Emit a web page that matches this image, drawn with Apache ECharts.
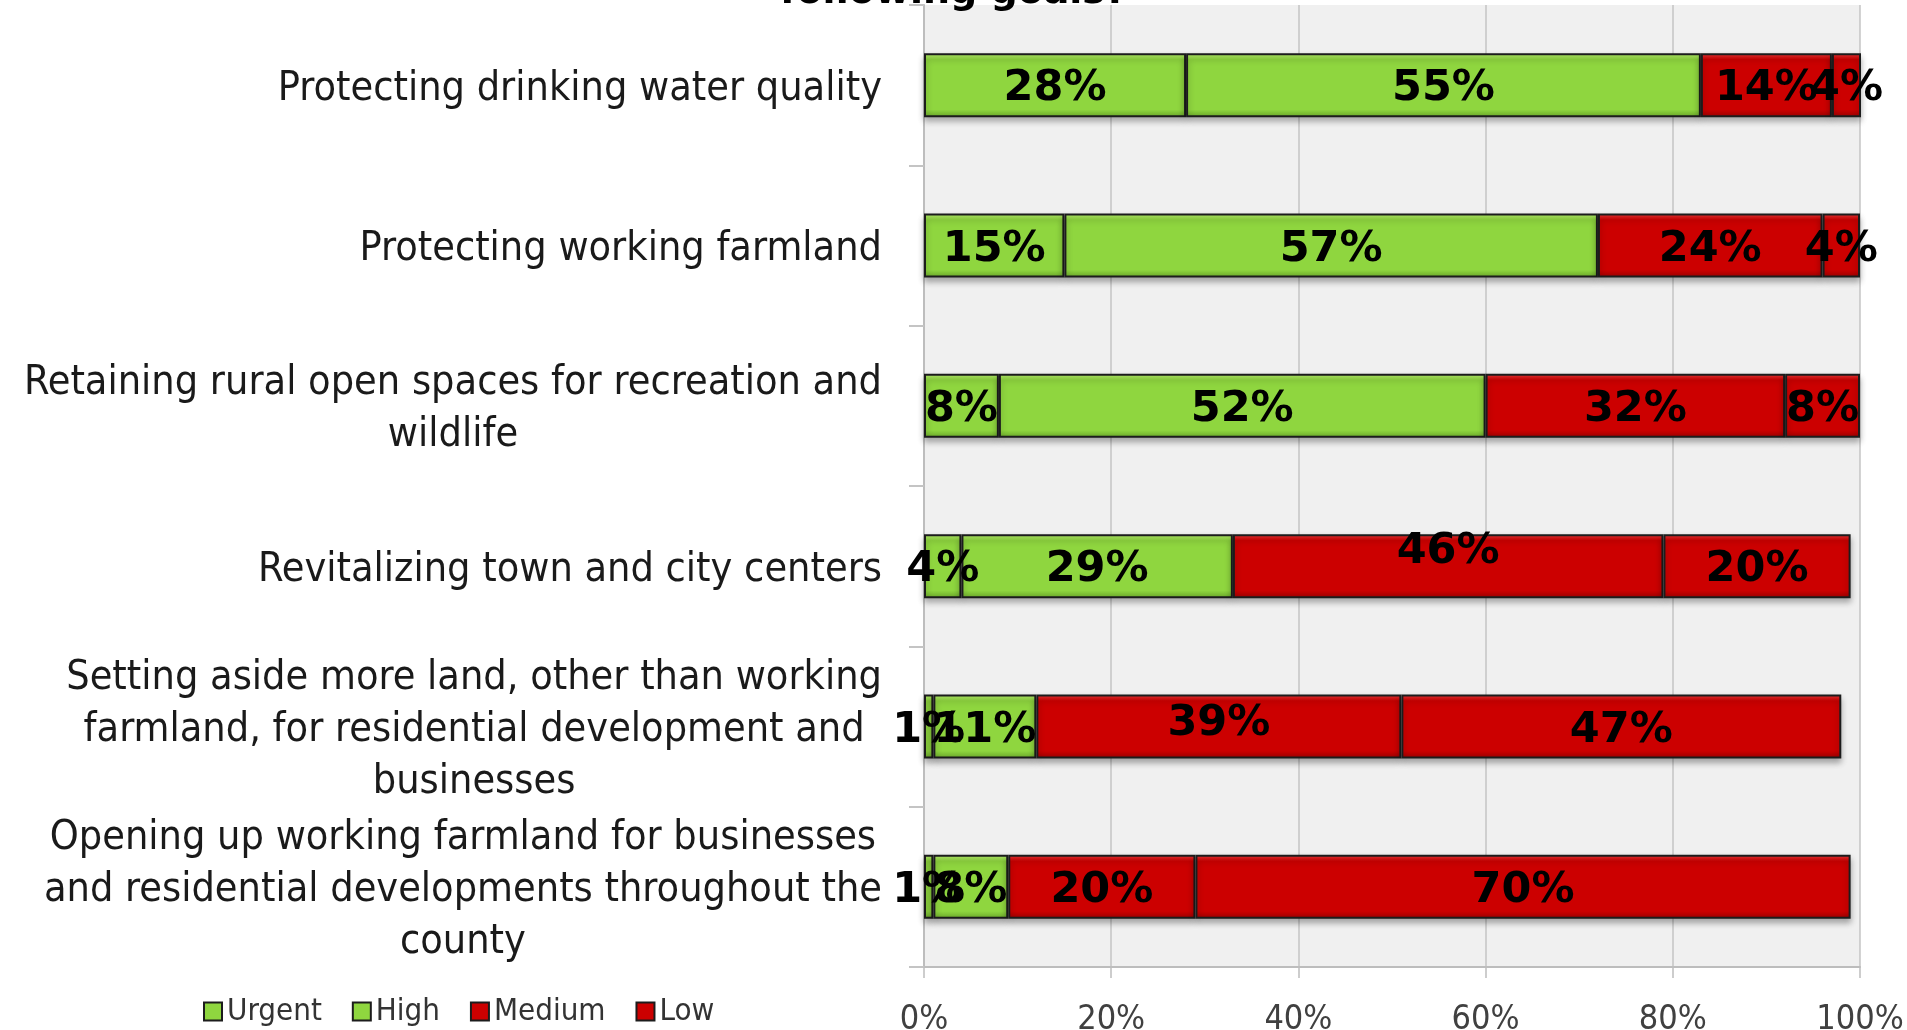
<!DOCTYPE html>
<html>
<head>
<meta charset="utf-8">
<title>Priority of goals</title>
<script src="https://cdn.jsdelivr.net/npm/echarts@6/dist/echarts.min.js"></script>
<style>
  html, body { margin: 0; padding: 0; background: #fff; }
  #chart { width: 1907px; height: 1030px; }
</style>
</head>
<body>
<div id="chart"></div>
<script>
'use strict';

// categories, top to bottom
const categories = [
  'Protecting drinking water quality',
  'Protecting working farmland',
  'Retaining rural open spaces for recreation and\nwildlife',
  'Revitalizing town and city centers',
  'Setting aside more land, other than working\nfarmland, for residential development and\nbusinesses',
  'Opening up working farmland for businesses\nand residential developments throughout the\ncounty'
];
const seriesNames = ['Urgent', 'High', 'Medium', 'Low'];
const urgent = [28, 15, 8, 4, 1, 1];
const high = [55, 57, 52, 29, 11, 8];
const medium = [14, 24, 32, 46, 39, 20];
const low = [4, 4, 8, 20, 47, 70];
const xTicks = [0, 20, 40, 60, 80, 100];
const titleText = 'following goals?';

// a couple of labels sit higher than the bar centre in the original
const labelNudge = { 'Medium-3': -18, 'Medium-4': -7 };

const FONT = '"DejaVu Sans Condensed", "DejaVu Sans", sans-serif';
const LABEL_FONT = '"DejaVu Sans", sans-serif';

function bevel(light, main, dark) {
  return new echarts.graphic.LinearGradient(0, 0, 0, 1, [
    { offset: 0, color: light },
    { offset: 0.1, color: main },
    { offset: 0.88, color: main },
    { offset: 1, color: dark }
  ]);
}
const GREEN = bevel('#b9ef6f', '#8fd63f', '#6aa82a');
const RED = bevel('#f23a3a', '#cc0000', '#9c0000');
const fills = [GREEN, GREEN, RED, RED];

function barSeries(name, values, fill) {
  return {
    name,
    type: 'bar',
    stack: 'total',
    barWidth: 64,
    itemStyle: {
      color: fill,
      borderColor: '#1c1c1c',
      borderWidth: 2,
      shadowColor: 'rgba(0,0,0,0.3)',
      shadowBlur: 6,
      shadowOffsetY: 4
    },
    label: {
      show: true,
      position: 'inside',
      offset: [0, 4],
      formatter: '{c}%',
      color: '#000',
      fontFamily: LABEL_FONT,
      fontWeight: 'bold',
      fontSize: 43
    },
    data: values.map((v, i) => {
      const dy = labelNudge[name + '-' + i];
      return dy ? { value: v, label: { offset: [0, 4 + dy] } } : v;
    })
  };
}

const chart = echarts.init(document.getElementById('chart'), null, { renderer: 'canvas' });

chart.setOption({
  animation: false,
  backgroundColor: '#ffffff',
  graphic: [{
    type: 'text',
    left: 'center',
    top: -26,
    style: { text: titleText, font: 'bold 38px "DejaVu Sans", sans-serif', fill: '#000' }
  }],
  grid: {
    left: 924, right: 47, top: 5, bottom: 63,
    outerBoundsMode: 'none',
    show: true, backgroundColor: '#f0f0f0', borderWidth: 0
  },
  legend: {
    left: 198, top: 991,
    itemWidth: 18, itemHeight: 18, itemGap: 30,
    icon: 'rect',
    itemStyle: { borderColor: '#1c1c1c', borderWidth: 2 },
    textStyle: { fontFamily: FONT, fontSize: 31, color: '#333' },
    data: seriesNames
  },
  xAxis: {
    type: 'value',
    min: xTicks[0], max: xTicks[xTicks.length - 1], interval: xTicks[1] - xTicks[0],
    axisLine: { show: true, lineStyle: { color: '#bdbdbd', width: 2 } },
    axisTick: { show: true, length: 11, lineStyle: { color: '#bdbdbd', width: 1.5 } },
    axisLabel: { margin: 36, fontFamily: FONT, fontSize: 34, color: '#404040', formatter: '{value}%' },
    splitLine: { lineStyle: { color: '#c4c4c4', width: 1.5 } }
  },
  yAxis: {
    type: 'category',
    inverse: true,
    data: categories,
    axisLine: { show: true, lineStyle: { color: '#bdbdbd', width: 2 } },
    axisTick: { show: true, length: 15, lineStyle: { color: '#c4c4c4', width: 2 } },
    axisLabel: {
      margin: 42,
      padding: [8, 0, 0, 0],
      formatter: (v) => v.split('\n').map((l) => '{t|' + l + '}').join('\n'),
      rich: {
        t: { align: 'center', fontFamily: FONT, fontSize: 41, lineHeight: 52, color: '#1a1a1a' }
      }
    }
  },
  series: [urgent, high, medium, low].map((vals, i) => barSeries(seriesNames[i], vals, fills[i]))
});
</script>
</body>
</html>
